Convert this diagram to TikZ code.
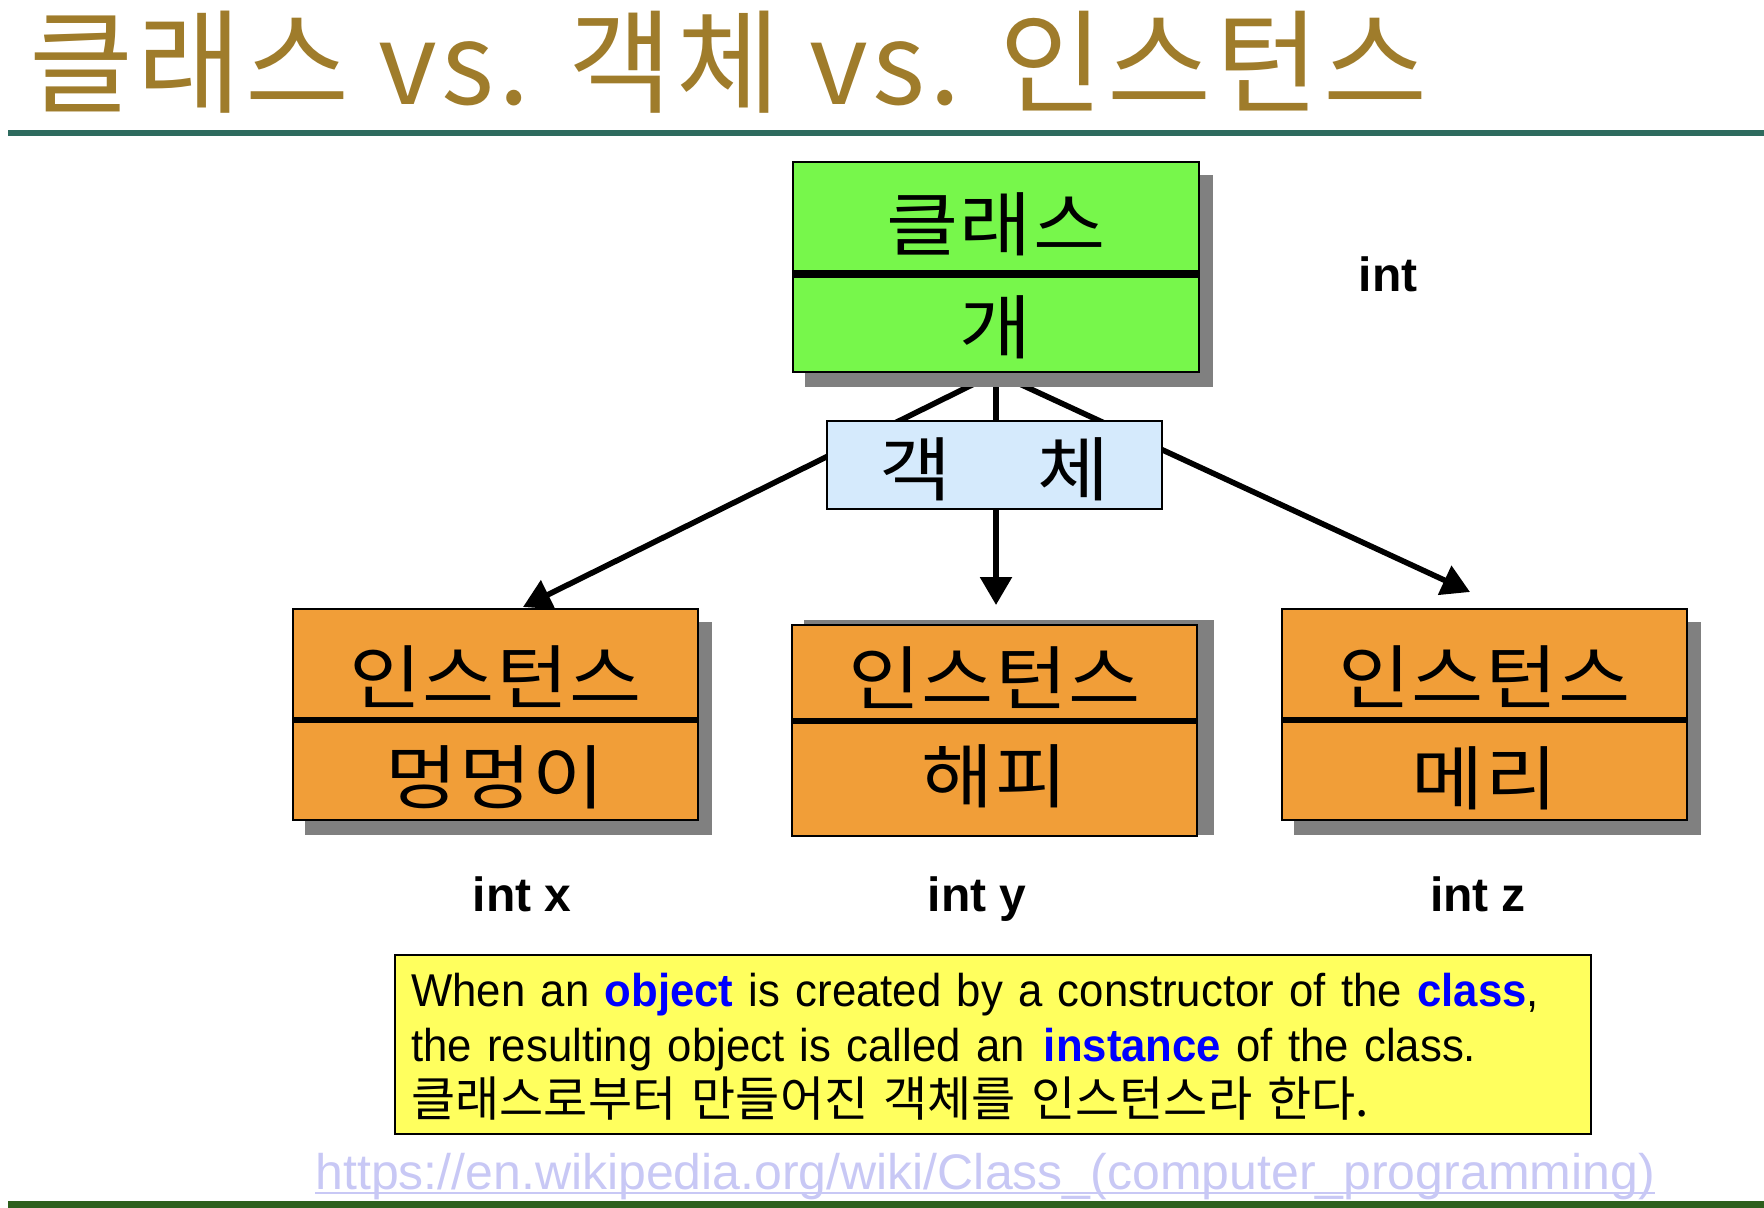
\documentclass[tikz,border=0pt]{standalone}
\usepackage{fontspec}
\setmainfont{Liberation Sans}
\newfontfamily\kr{Noto Sans CJK KR}
\newfontfamily\krbox[FakeStretch=1.12,LetterSpace=2]{Noto Sans CJK KR}
\newfontfamily\krwide[LetterSpace=3.5]{Noto Sans CJK KR}
\newfontfamily\notefont[FakeStretch=0.95]{Liberation Sans}
\usepackage{xcolor}
\usepackage{tikz}
\usetikzlibrary{arrows.meta,positioning,calc,backgrounds}
\definecolor{titlec}{HTML}{9F7C2B}
\definecolor{rulec}{HTML}{2E6B5E}
\definecolor{footc}{HTML}{2D5F1D}
\definecolor{clsfill}{HTML}{77F74B}
\definecolor{objfill}{HTML}{D5EAFC}
\definecolor{instfill}{HTML}{F19E38}
\definecolor{notefill}{HTML}{FFFF5E}
\definecolor{keyc}{HTML}{0000FF}
\definecolor{urlc}{HTML}{C8C8F5}
\definecolor{shadowc}{HTML}{808080}
\newcommand{\kw}[1]{\textcolor{keyc}{\textbf{#1}}}
\tikzset{
  sec/.style={draw=black,line width=1pt,inner sep=0pt,text height=#1,text depth=0pt,
    font=\krbox\fontsize{35pt}{40pt}\selectfont},
  sec/.default=32pt,
  clsbox/.style={sec=#1,fill=clsfill,minimum width=203pt},
  clsbox/.default=32pt,
  instbox/.style={sec=#1,fill=instfill,minimum width=202.5pt},
  instbox/.default=32pt,
  objbox/.style={sec=#1,fill=objfill,minimum width=167.5pt,minimum height=44pt},
  objbox/.default=30.6pt,
  divider/.style={line width=#1},
  divider/.default=3pt,
  boxshadow/.style={fill=shadowc},
  link/.style={line width=2.8pt,-{Triangle[length=14pt,width=15.5pt]}},
  lbl/.style={inner sep=0pt,anchor=base,font=\bfseries\fontsize{24pt}{28pt}\selectfont},
  titletext/.style={inner sep=0pt,text=titlec,font=\krwide\fontsize{56.5pt}{64pt}\selectfont},
  note/.style={draw=black,line width=1pt,fill=notefill,minimum width=598pt,minimum height=89.5pt},
  notetext/.style={inner sep=0pt,align=left,text width=640pt,
    font=\notefont\fontsize{23pt}{27.5pt}\selectfont},
  urltext/.style={inner sep=0pt,text=urlc,font=\fontsize{25pt}{30pt}\selectfont},
  urlline/.style={draw=urlc,line width=1.2pt},
}

\begin{document}
\begin{tikzpicture}[x=0.5pt,y=-0.5pt]
  \useasboundingbox (0,0) rectangle (1764,1208);
  % title and rules
  \node[titletext,anchor=base west] (title) at (29,105) {클래스 vs. 객체 vs. 인스턴스};
  \fill[rulec] (8,130) rectangle (1764,136);
  \fill[footc] (8,1201) rectangle (1764,1208);
  % class
  \node[clsbox=33.1pt,minimum height=55.5pt] (clsA) at (996,217.5) {클래스};
  \node[clsbox=30.1pt,minimum height=48.5pt,below=0pt of clsA] (clsB) {개};
  \draw[divider=3.6pt] (clsA.south west) -- (clsA.south east);
  % object
  \node[objbox] (obj) at (994.5,465) {객\hspace{42.5pt}체\hspace{6pt}};
  % instances
  \node[instbox=39.6pt,minimum height=55pt] (i1A) at (495.5,664) {인스턴스};
  \node[instbox=32.6pt,minimum height=49.5pt,below=0pt of i1A] (i1B) {멍멍이};
  \node[instbox=31.6pt,minimum height=47.5pt] (i2A) at (994.5,672.5) {인스턴스};
  \node[instbox=23.6pt,minimum height=57pt,below=0pt of i2A] (i2B) {해피};
  \node[instbox=39.6pt,minimum height=55pt] (i3A) at (1484.5,664) {인스턴스};
  \node[instbox=33.6pt,minimum height=49.5pt,below=0pt of i3A] (i3B) {메리};
  \foreach \s in {i1A,i2A,i3A} \draw[divider] (\s.south west) -- (\s.south east);
  \begin{scope}[on background layer]
    \draw[link] (clsB.south) -- ($(i1A.north)+(27.5,-1)$);
    \draw[link] (clsB.south) -- ($(i2A.north)+(1.5,-19)$);
    \draw[link] (clsB.south) -- ($(i3A.north)+(-14.5,-16)$);
    \fill[boxshadow] ([shift={(13,14)}]clsA.north west) rectangle ([shift={(13,14)}]clsB.south east);
    \fill[boxshadow] ([shift={(13,14)}]i1A.north west) rectangle ([shift={(13,14)}]i1B.south east);
    \fill[boxshadow] ([shift={(13,-4)}]i2A.north west) rectangle ([shift={(16,-2)}]i2B.south east);
    \fill[boxshadow] ([shift={(13,14)}]i3A.north west) rectangle ([shift={(13,14)}]i3B.south east);
  \end{scope}
  % labels
  \node[lbl] (intc) at (1388,292) {int};
  \node[lbl] (intx) at (522,911) {int x};
  \node[lbl] (inty) at (977,911) {int y};
  \node[lbl] (intz) at (1478,911) {int z};
  % note
  \node[note] (note) at (993,1044.5) {};
  \node[notetext,anchor=base west] (notetxt) at ([shift={(17,52)}]note.north west)
    {When an \kw{object} is created by a constructor of the \kw{class},\\
     the resulting object is called an\hspace{0.08em} \kw{instance} of the class.\\
     {\kr\fontsize{24pt}{27.5pt}\selectfont 클래스로부터 만들어진 객체를 인스턴스라 한다.}};
  % link
  \node[urltext,anchor=base west] (url) at (315,1189)
    {https://en.wikipedia.org/wiki/Class\_(computer\_programming)};
  \draw[urlline] ([yshift=-2pt]url.base west) -- ([yshift=-2pt]url.base east);
\end{tikzpicture}
\end{document}
